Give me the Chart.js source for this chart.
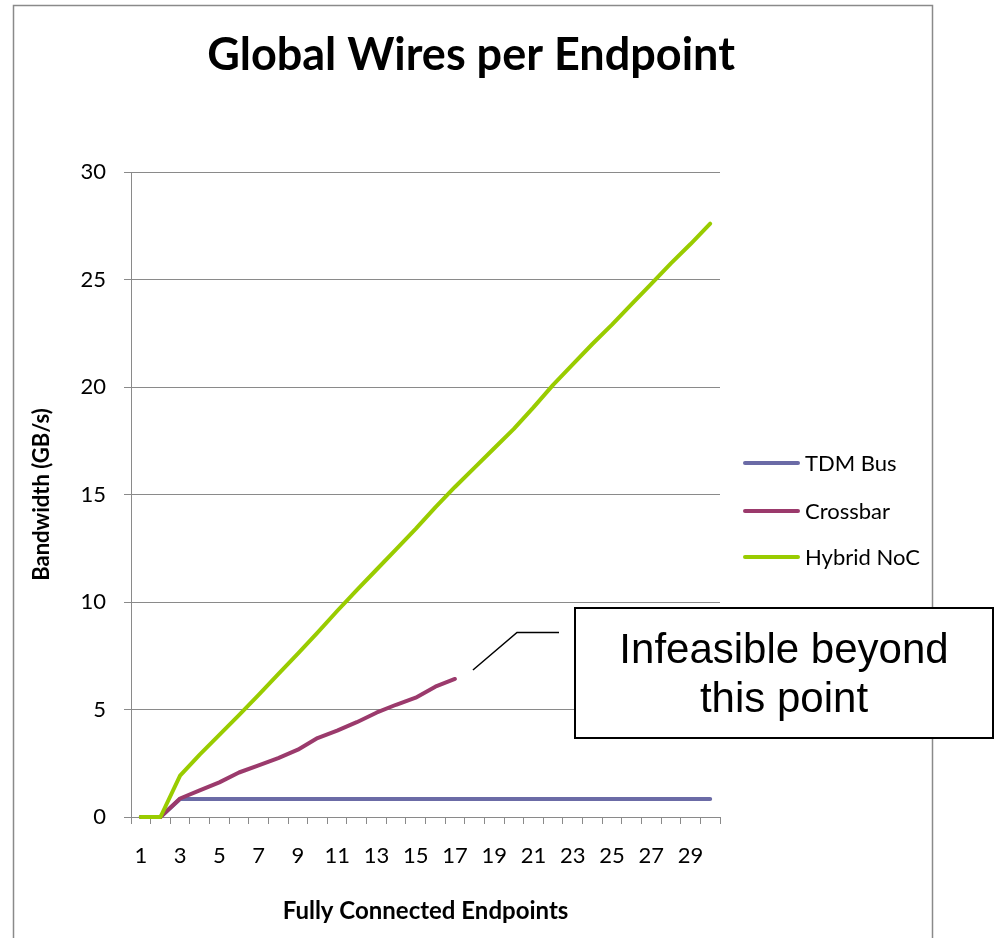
<!DOCTYPE html>
<html>
<head>
<meta charset="utf-8">
<script src="https://cdn.jsdelivr.net/npm/chart.js@4/dist/chart.umd.min.js"></script>
<style>
  html, body { margin: 0; padding: 0; background: #fff; }
  canvas { display: block; }
</style>
</head>
<body>
<canvas id="c" width="999" height="938"></canvas>
<script>
// Number of fully connected endpoints (x categories)
const endpoints = ['1','2','3','4','5','6','7','8','9','10','11','12','13','14','15',
                   '16','17','18','19','20','21','22','23','24','25','26','27','28','29','30'];

// Bandwidth per endpoint, GB/s
const tdmBus = [0, 0, 0.84, 0.84, 0.84, 0.84, 0.84, 0.84, 0.84, 0.84, 0.84, 0.84, 0.84, 0.84, 0.84,
                0.84, 0.84, 0.84, 0.84, 0.84, 0.84, 0.84, 0.84, 0.84, 0.84, 0.84, 0.84, 0.84, 0.84, 0.84];
const crossbar = [0, 0, 0.86, 1.24, 1.61, 2.07, 2.40, 2.74, 3.13, 3.67, 4.02, 4.41, 4.85, 5.22, 5.55,
                  6.06, 6.42, null, null, null, null, null, null, null, null, null, null, null, null, null];
const hybridNoc = [0, 0, 1.92, 2.90, 3.82, 4.74, 5.68, 6.64, 7.60, 8.57, 9.58, 10.55, 11.50, 12.45, 13.40,
                   14.40, 15.35, 16.25, 17.15, 18.05, 19.05, 20.10, 21.05, 22.00, 22.90, 23.85, 24.80, 25.75, 26.65, 27.60];

const seriesNames = ['TDM Bus', 'Crossbar', 'Hybrid NoC'];
const seriesColors = ['#6B6BA6', '#9B3A6C', '#99CC00'];

const chartTitle = 'Global Wires per Endpoint';
const xTitle = 'Fully Connected Endpoints';
const yTitle = 'Bandwidth (GB/s)';
const calloutLines = ['Infeasible beyond', 'this point'];

const axisGray = '#8a8a8a';
const uiFont = 'Lato, "Open Sans", sans-serif';

// Frame, title, legend and the callout box
const decor = {
  id: 'decor',
  beforeDraw(chart) {
    const ctx = chart.ctx;
    ctx.save();
    ctx.fillStyle = '#fff';
    ctx.fillRect(0, 0, chart.width, chart.height);
    ctx.strokeStyle = axisGray;
    ctx.lineWidth = 1.5;
    ctx.strokeRect(13.5, 5.5, 919, 960);
    ctx.restore();
  },
  afterDraw(chart) {
    const ctx = chart.ctx;
    ctx.save();

    // title
    ctx.fillStyle = '#000';
    ctx.font = 'bold 45px ' + uiFont;
    ctx.textAlign = 'center';
    ctx.textBaseline = 'alphabetic';
    ctx.fillText(chartTitle, 471, 70);

    // legend
    const rows = [463, 511, 557];
    chart.data.datasets.forEach((ds, i) => {
      const y = rows[i];
      ctx.strokeStyle = ds.borderColor;
      ctx.lineWidth = 4;
      ctx.lineCap = 'round';
      ctx.beginPath();
      ctx.moveTo(745, y);
      ctx.lineTo(798, y);
      ctx.stroke();
      ctx.fillStyle = '#000';
      ctx.font = '22px ' + uiFont;
      ctx.textAlign = 'left';
      ctx.textBaseline = 'middle';
      ctx.fillText(ds.label, 805, y + 1);
    });

    // callout connector from the last crossbar point
    const meta = chart.getDatasetMeta(1);
    let last = 0;
    crossbar.forEach((v, i) => { if (v !== null) last = i; });
    const p = meta.data[last];
    ctx.strokeStyle = '#000';
    ctx.lineWidth = 1.5;
    ctx.lineCap = 'butt';
    ctx.beginPath();
    ctx.moveTo(p.x + 18, p.y - 9);
    ctx.lineTo(517, 632.5);
    ctx.lineTo(559, 632.5);
    ctx.stroke();

    // callout box
    ctx.fillStyle = '#fff';
    ctx.fillRect(575, 608, 418, 130);
    ctx.lineWidth = 2;
    ctx.strokeRect(575, 608, 418, 130);
    ctx.fillStyle = '#000';
    ctx.font = '42px "Liberation Sans", Arial, sans-serif';
    ctx.textAlign = 'center';
    ctx.textBaseline = 'alphabetic';
    ctx.fillText(calloutLines[0], 784, 663);
    ctx.fillText(calloutLines[1], 784, 712);

    ctx.restore();
  }
};

const lineStyle = {
  borderWidth: 4,
  pointRadius: 0,
  pointHoverRadius: 0,
  tension: 0,
  borderCapStyle: 'round',
  borderJoinStyle: 'round',
  spanGaps: false,
  clip: 6
};

new Chart(document.getElementById('c'), {
  type: 'line',
  data: {
    labels: endpoints,
    datasets: [
      Object.assign({ label: seriesNames[0], data: tdmBus, borderColor: seriesColors[0], backgroundColor: seriesColors[0], order: 3 }, lineStyle),
      Object.assign({ label: seriesNames[1], data: crossbar, borderColor: seriesColors[1], backgroundColor: seriesColors[1], order: 2 }, lineStyle),
      Object.assign({ label: seriesNames[2], data: hybridNoc, borderColor: seriesColors[2], backgroundColor: seriesColors[2], order: 1 }, lineStyle)
    ]
  },
  options: {
    responsive: false,
    animation: false,
    devicePixelRatio: 1,
    layout: { padding: { left: 0, right: 279, top: 172, bottom: 0 } },
    plugins: {
      legend: { display: false },
      title: { display: false },
      tooltip: { enabled: false }
    },
    scales: {
      x: {
        type: 'category',
        offset: true,
        afterFit(scale) { scale.height = 121; },
        grid: {
          offset: true,
          drawOnChartArea: false,
          drawTicks: true,
          tickLength: 7,
          color: axisGray,
          lineWidth: 1
        },
        border: { display: true, color: axisGray, width: 1 },
        ticks: {
          autoSkip: false,
          maxRotation: 0,
          padding: 19,
          color: '#000',
          font: { family: uiFont, size: 22 },
          callback(value, index) { return index % 2 === 0 ? this.getLabelForValue(value) : ''; }
        },
        title: {
          display: true,
          text: xTitle,
          color: '#000',
          font: { family: uiFont, size: 24, weight: 'bold' },
          padding: { top: 0, bottom: 12 }
        }
      },
      y: {
        min: 0,
        max: 30,
        afterFit(scale) { scale.width = 131; },
        grid: {
          drawOnChartArea: true,
          drawTicks: true,
          tickLength: 7,
          color: axisGray,
          lineWidth: 1
        },
        border: { display: true, color: axisGray, width: 1 },
        ticks: {
          stepSize: 5,
          padding: 18,
          color: '#000',
          font: { family: uiFont, size: 22 }
        },
        title: {
          display: true,
          text: yTitle,
          color: '#000',
          font: { family: uiFont, size: 22, weight: 'bold' },
          padding: { top: 29, bottom: 0 }
        }
      }
    }
  },
  plugins: [decor]
});
</script>
</body>
</html>
